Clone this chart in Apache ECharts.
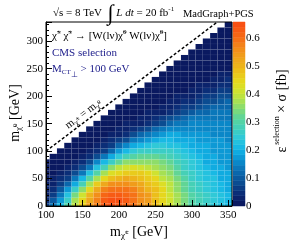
<!DOCTYPE html>
<html><head><meta charset="utf-8">
<script src="https://cdn.jsdelivr.net/npm/echarts@6/dist/echarts.min.js"></script>
<style>html,body{margin:0;padding:0;background:#fff}#c{width:291px;height:251px}</style>
</head><body><div id="c"></div>
<script>
// ---------------- data ----------------
const xCenters = [100,110,120,130,140,150,160,170,180,190,200,210,220,230,240,250,260,270,280,290,300,310,320,330,340,350];
const yCenters = [0,10,20,30,40,50,60,70,80,90,100,110,120,130,140,150,160,170,180,190,200,210,220,230,240,250,260,270,280,290,300,310,320,330];
const _ = null;
const z = [
 [0.07,0.13,0.21,0.30,0.39,0.46,0.53,0.58,0.62,0.64,0.63,0.61,0.59,0.56,0.53,0.49,0.45,0.41,0.37,0.33,0.30,0.28,0.26,0.24,0.22,0.21],
 [0.05,0.10,0.18,0.27,0.37,0.44,0.52,0.58,0.62,0.64,0.64,0.62,0.59,0.56,0.53,0.49,0.45,0.41,0.37,0.34,0.30,0.28,0.26,0.24,0.22,0.21],
 [0.03,0.07,0.14,0.23,0.33,0.41,0.50,0.56,0.61,0.63,0.63,0.61,0.59,0.56,0.53,0.49,0.45,0.41,0.37,0.33,0.30,0.28,0.26,0.24,0.22,0.21],
 [0.02,0.05,0.10,0.18,0.27,0.36,0.45,0.52,0.57,0.59,0.60,0.59,0.57,0.54,0.51,0.48,0.44,0.40,0.36,0.32,0.29,0.27,0.25,0.23,0.21,0.20],
 [0.02,0.03,0.06,0.12,0.20,0.29,0.38,0.46,0.52,0.55,0.56,0.56,0.54,0.52,0.49,0.46,0.42,0.39,0.35,0.31,0.28,0.26,0.24,0.22,0.21,0.20],
 [0.01,0.02,0.04,0.07,0.13,0.21,0.30,0.38,0.45,0.49,0.51,0.52,0.51,0.49,0.47,0.44,0.40,0.37,0.34,0.30,0.27,0.25,0.23,0.22,0.20,0.19],
 [0.01,0.01,0.02,0.04,0.08,0.14,0.22,0.30,0.37,0.42,0.45,0.47,0.47,0.46,0.44,0.41,0.38,0.35,0.32,0.29,0.26,0.24,0.22,0.21,0.20,0.19],
 [0.01,0.01,0.01,0.02,0.04,0.08,0.14,0.22,0.29,0.35,0.39,0.41,0.42,0.41,0.40,0.38,0.36,0.33,0.30,0.27,0.25,0.23,0.21,0.20,0.19,0.18],
 [0.01,0.01,0.01,0.01,0.02,0.04,0.08,0.15,0.21,0.27,0.32,0.35,0.36,0.36,0.36,0.35,0.33,0.31,0.28,0.26,0.24,0.22,0.20,0.19,0.18,0.18],
 [_,0.01,0.01,0.01,0.01,0.02,0.04,0.08,0.13,0.19,0.24,0.28,0.30,0.31,0.31,0.31,0.30,0.28,0.26,0.24,0.22,0.21,0.20,0.19,0.18,0.17],
 [_,_,0.01,0.01,0.01,0.01,0.02,0.04,0.07,0.12,0.17,0.21,0.24,0.26,0.27,0.27,0.27,0.26,0.24,0.23,0.21,0.20,0.19,0.18,0.18,0.17],
 [_,_,_,0.01,0.01,0.01,0.01,0.02,0.04,0.07,0.11,0.15,0.19,0.21,0.23,0.24,0.24,0.23,0.22,0.21,0.20,0.19,0.19,0.18,0.17,0.17],
 [_,_,_,_,0.01,0.01,0.01,0.01,0.02,0.04,0.06,0.09,0.13,0.16,0.18,0.20,0.21,0.21,0.20,0.20,0.19,0.18,0.18,0.17,0.17,0.16],
 [_,_,_,_,_,0.01,0.01,0.01,0.01,0.02,0.03,0.05,0.08,0.11,0.13,0.16,0.18,0.19,0.19,0.18,0.18,0.17,0.17,0.16,0.16,0.16],
 [_,_,_,_,_,_,0.01,0.01,0.01,0.01,0.02,0.03,0.04,0.06,0.08,0.11,0.13,0.15,0.16,0.16,0.16,0.16,0.16,0.16,0.15,0.15],
 [_,_,_,_,_,_,_,0.01,0.01,0.01,0.01,0.02,0.02,0.03,0.05,0.07,0.09,0.11,0.13,0.14,0.15,0.15,0.15,0.15,0.15,0.15],
 [_,_,_,_,_,_,_,_,0.01,0.01,0.01,0.01,0.01,0.02,0.03,0.04,0.06,0.08,0.10,0.11,0.13,0.13,0.14,0.14,0.14,0.14],
 [_,_,_,_,_,_,_,_,_,0.01,0.01,0.01,0.01,0.01,0.02,0.02,0.03,0.05,0.07,0.08,0.10,0.11,0.12,0.13,0.13,0.13],
 [_,_,_,_,_,_,_,_,_,_,0.01,0.01,0.01,0.01,0.01,0.01,0.02,0.03,0.04,0.06,0.07,0.09,0.10,0.11,0.12,0.12],
 [_,_,_,_,_,_,_,_,_,_,_,0.01,0.01,0.01,0.01,0.01,0.01,0.02,0.03,0.04,0.05,0.07,0.08,0.09,0.10,0.11],
 [_,_,_,_,_,_,_,_,_,_,_,_,0.01,0.01,0.01,0.01,0.01,0.01,0.02,0.02,0.03,0.04,0.06,0.07,0.08,0.09],
 [_,_,_,_,_,_,_,_,_,_,_,_,_,0.01,0.01,0.01,0.01,0.01,0.01,0.01,0.02,0.03,0.04,0.05,0.06,0.07],
 [_,_,_,_,_,_,_,_,_,_,_,_,_,_,0.01,0.01,0.01,0.01,0.01,0.01,0.01,0.02,0.02,0.03,0.04,0.05],
 [_,_,_,_,_,_,_,_,_,_,_,_,_,_,_,0.01,0.01,0.01,0.01,0.01,0.01,0.01,0.01,0.02,0.03,0.04],
 [_,_,_,_,_,_,_,_,_,_,_,_,_,_,_,_,0.01,0.01,0.01,0.01,0.01,0.01,0.01,0.01,0.02,0.02],
 [_,_,_,_,_,_,_,_,_,_,_,_,_,_,_,_,_,0.01,0.01,0.01,0.01,0.01,0.01,0.01,0.01,0.01],
 [_,_,_,_,_,_,_,_,_,_,_,_,_,_,_,_,_,_,0.01,0.01,0.01,0.01,0.01,0.01,0.01,0.01],
 [_,_,_,_,_,_,_,_,_,_,_,_,_,_,_,_,_,_,_,0.01,0.01,0.01,0.01,0.01,0.01,0.01],
 [_,_,_,_,_,_,_,_,_,_,_,_,_,_,_,_,_,_,_,_,0.01,0.01,0.01,0.01,0.01,0.01],
 [_,_,_,_,_,_,_,_,_,_,_,_,_,_,_,_,_,_,_,_,_,0.01,0.01,0.01,0.01,0.01],
 [_,_,_,_,_,_,_,_,_,_,_,_,_,_,_,_,_,_,_,_,_,_,0.01,0.01,0.01,0.01],
 [_,_,_,_,_,_,_,_,_,_,_,_,_,_,_,_,_,_,_,_,_,_,_,0.01,0.01,0.01],
 [_,_,_,_,_,_,_,_,_,_,_,_,_,_,_,_,_,_,_,_,_,_,_,_,0.01,0.01],
 [_,_,_,_,_,_,_,_,_,_,_,_,_,_,_,_,_,_,_,_,_,_,_,_,_,0.01]
];
const xTicks = [100,150,200,250,300,350];
const yTicks = [0,50,100,150,200,250,300];
const zTicks = [0,0.1,0.2,0.3,0.4,0.5,0.6];
const zMax = 0.656;
const diagonal = [[100,100],[335,335]];

// ---------------- styling ----------------
const FONT = '"Liberation Serif","Times New Roman",serif';
const paletteStops = [
 [0.00,'#0a145a'],[0.04,'#0b2a74'],[0.08,'#0b4a90'],[0.12,'#0a68ad'],[0.16,'#0a8ccc'],
 [0.20,'#12b4e6'],[0.24,'#2cc8dc'],[0.28,'#44d0b8'],[0.32,'#62d594'],[0.36,'#94de64'],
 [0.40,'#c8e436'],[0.44,'#e4dc1e'],[0.48,'#ecc01a'],[0.52,'#eea81c'],[0.56,'#f28c1a'],
 [0.60,'#f66c16'],[0.656,'#f84a12']
];
const NB = 36;
function hex(c){return [parseInt(c.slice(1,3),16),parseInt(c.slice(3,5),16),parseInt(c.slice(5,7),16)];}
function interp(v){
  for(let i=1;i<paletteStops.length;i++){
    if(v<=paletteStops[i][0]){
      const a=paletteStops[i-1],b=paletteStops[i];
      const t=(v-a[0])/(b[0]-a[0]);const ca=hex(a[1]),cb=hex(b[1]);
      return 'rgb('+ca.map((x,k)=>Math.round(x+(cb[k]-x)*t)).join(',')+')';
    }
  }
  return paletteStops[paletteStops.length-1][1];
}
function colorAt(v){
  const vv=Math.min(Math.max(v,0),zMax-1e-9);
  const i=Math.floor(vv/zMax*NB);
  return interp((i+0.5)*zMax/NB);
}
const cells=[];
yCenters.forEach((y,r)=>xCenters.forEach((x,c)=>{const v=z[r][c]; if(v!=null) cells.push([x,y,v]);}));
const bands=[]; for(let i=0;i<NB;i++) bands.push([0,i*zMax/NB,(i+1)*zMax/NB]);

function renderCell(params,api){
  const x=api.value(0),y=api.value(1),v=api.value(2);
  const p0=api.coord([x-5,y+5]),p1=api.coord([x+5,y-5]);
  const cs=params.coordSys;
  const r=echarts.graphic.clipRectByRect({x:p0[0],y:p0[1],width:p1[0]-p0[0],height:p1[1]-p0[1]},{x:cs.x,y:cs.y,width:cs.width,height:cs.height});
  if(!r) return null;
  const col=colorAt(v);
  return {type:'rect',shape:r,style:{fill:col,stroke:'rgba(255,255,255,0.05)',lineWidth:0.5}};
}
function renderBand(params,api){
  const lo=api.value(1),hi=api.value(2);
  const cs=params.coordSys;
  const y0=api.coord([0,lo])[1],y1=api.coord([0,hi])[1];
  const col=colorAt((lo+hi)/2);
  return {type:'rect',shape:{x:cs.x,y:y1,width:cs.width,height:y0-y1},style:{fill:col,stroke:col,lineWidth:0.5}};
}
const lab = {fontFamily:FONT,fontSize:11,color:'#000'};
const chart=echarts.init(document.getElementById('c'),null,{renderer:'canvas',width:291,height:251});
chart.setOption({
  animation:false,
  grid:[{left:46,top:22,width:186,height:184,show:true,borderColor:'#000',borderWidth:1,z:10},
        {left:233,top:22,width:12,height:184}],
  xAxis:[
    {gridIndex:0,type:'value',min:100,max:355,interval:50,position:'bottom',z:10,
     axisLine:{show:true,onZero:false,lineStyle:{color:'#000',width:1}},
     axisTick:{inside:true,length:6,lineStyle:{color:'#000'}},
     axisLabel:Object.assign({margin:4,formatter:v=>xTicks.includes(v)?String(v):''},lab),splitLine:{show:false}},
    {gridIndex:0,type:'value',min:100,max:355,interval:10,position:'bottom',z:10,
     axisLine:{show:false},axisTick:{inside:true,length:3,lineStyle:{color:'#000'}},axisLabel:{show:false},splitLine:{show:false}},
    {gridIndex:1,type:'category',data:['z'],show:false}
  ],
  yAxis:[
    {gridIndex:0,type:'value',min:0,max:335,interval:50,position:'left',z:10,
     axisLine:{show:true,onZero:false,lineStyle:{color:'#000',width:1}},
     axisTick:{inside:true,length:6,lineStyle:{color:'#000'}},
     axisLabel:Object.assign({margin:3,formatter:v=>yTicks.includes(v)?String(v):''},lab),splitLine:{show:false}},
    {gridIndex:0,type:'value',min:0,max:335,interval:10,position:'left',z:10,
     axisLine:{show:false},axisTick:{inside:true,length:3,lineStyle:{color:'#000'}},axisLabel:{show:false},splitLine:{show:false}},
    {gridIndex:1,type:'value',min:0,max:zMax,interval:0.1,position:'right',z:10,
     axisLine:{show:false},axisTick:{inside:false,length:4,lineStyle:{color:'#000'}},
     axisLabel:Object.assign({margin:1,formatter:v=>{const k=zTicks.find(t=>Math.abs(t-v)<1e-6);return k===undefined?'':(k===0?'0':k.toFixed(1));}},lab),
     splitLine:{show:false}}
  ],
  series:[
    {type:'custom',xAxisIndex:0,yAxisIndex:0,data:cells,renderItem:renderCell,z:2},
    {type:'line',xAxisIndex:0,yAxisIndex:0,data:diagonal,symbol:'none',z:5,lineStyle:{color:'#000',width:1.5,type:[3,2]}},
    {type:'custom',xAxisIndex:2,yAxisIndex:2,data:bands,encode:{x:0,y:[1,2]},renderItem:renderBand}
  ]
});

// ---------------- text ----------------
const ctx=document.createElement('canvas').getContext('2d');
function measure(t,s,i){ctx.font=(i?'italic ':'')+s+'px '+FONT;return ctx.measureText(t).width;}
function runs(segs){
  let x=0;const ch=[];
  segs.forEach(s=>{
    ch.push({type:'text',x:x,y:(s.dy||0),style:{text:s.t,font:(s.i?'italic ':'')+s.s+'px '+FONT,fill:s.c||'#000',align:'left',verticalAlign:'middle'}});
    x+=measure(s.t,s.s,s.i);
  });
  return {children:ch,width:x};
}
function group(segs,x,y,rot,center){
  const r=runs(segs);
  if(center) r.children.forEach(c=>c.x-=r.width/2);
  return {type:'group',x:x,y:y,rotation:rot||0,children:r.children};
}
const chi='\u03c7\u0303';
const navy='#1c1c8a';
const p0=chart.convertToPixel({xAxisIndex:0,yAxisIndex:0},diagonal[0]);
const p1=chart.convertToPixel({xAxisIndex:0,yAxisIndex:0},diagonal[1]);
const ang=Math.atan2(p0[1]-p1[1],p1[0]-p0[0]);
const pl=chart.convertToPixel({xAxisIndex:0,yAxisIndex:0},[134,134]);
const off=7;
const gx=pl[0]-Math.sin(ang)*off, gy=pl[1]-Math.cos(ang)*off;

chart.setOption({graphic:[
  group([{t:'\u221as = 8 TeV  ',s:11},{t:'\u222b',s:22,dy:1},{t:' L dt',s:11,i:true},{t:' = 20 fb',s:11},{t:'-1',s:7,dy:-4}],53,13),
  group([{t:'MadGraph+PGS',s:10.5}],183,14),
  group([{t:chi,s:11},{t:'\u00b1',s:7,dy:-4},{t:' '+chi,s:11},{t:'\u00b1',s:7,dy:-4},{t:' \u2192 [W(l\u03bd)',s:11},{t:chi,s:11},{t:'0',s:7,dy:-4},{t:' W(l\u03bd)',s:11},{t:chi,s:11},{t:'0',s:7,dy:-4},{t:']',s:11}],52,36),
  group([{t:'CMS selection',s:11,c:navy}],52,53),
  group([{t:'M',s:11,c:navy},{t:'CT',s:7,dy:3,c:navy},{t:'\u22a5',s:8,dy:6,c:navy},{t:' > 100 GeV',s:11,c:navy}],52,69),
  group([{t:'m',s:11},{t:chi,s:8,dy:3},{t:'\u00b1',s:6,dy:0},{t:' = m',s:11},{t:chi,s:8,dy:3},{t:'0',s:6,dy:0}],gx,gy,ang),
  group([{t:'m',s:14},{t:chi,s:9,dy:4},{t:'\u00b1',s:7,dy:0},{t:' [GeV]',s:14}],139,232,0,true),
  group([{t:'m',s:14},{t:chi,s:9,dy:4},{t:'0',s:7,dy:0},{t:' [GeV]',s:14}],15,113,Math.PI/2,true),
  group([{t:'\u03b5',s:14},{t:' selection',s:8,dy:-5},{t:' \u00d7 \u03c3 [fb]',s:14}],282,111,Math.PI/2,true)
]});
</script></body></html>
